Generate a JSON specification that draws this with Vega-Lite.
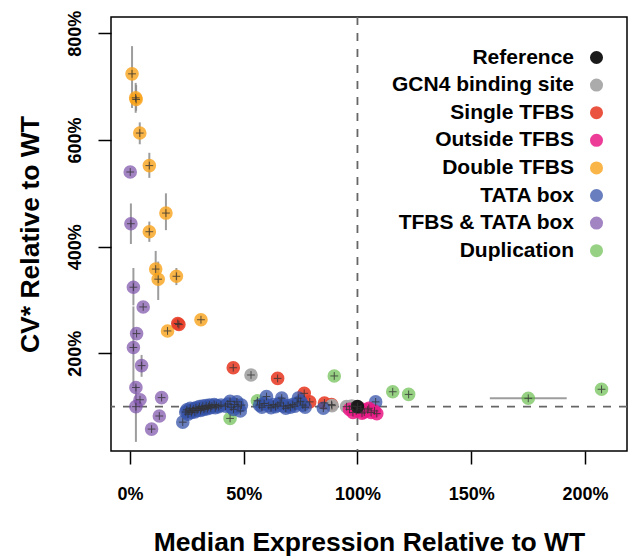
{
  "$schema": "https://vega.github.io/schema/vega-lite/v6.json",
  "width": 516,
  "height": 434,
  "autosize": {"type": "none"},
  "padding": {"left": 111, "top": 17, "right": 9, "bottom": 106},
  "background": "white",
  "config": {
    "view": {"stroke": "black", "strokeWidth": 1.5},
    "font": "Liberation Sans",
    "axis": {
      "grid": false, "domain": false, "ticks": true, "tickColor": "black", "tickWidth": 1.5, "tickSize": 13,
      "labelFont": "Liberation Sans", "labelFontWeight": "bold", "labelFontSize": 18, "labelColor": "black",
      "titleFont": "Liberation Sans", "titleFontWeight": "bold", "titleFontSize": 26.5, "titleColor": "black"
    }
  },
  "datasets": {
    "pts": [
      {"g": "TFBS & TATA box", "x": 0.1, "y": 540},
      {"g": "TFBS & TATA box", "x": 0.4, "y": 443, "ylo": 405, "yhi": 481},
      {"g": "TFBS & TATA box", "x": 1.5, "y": 324, "ylo": 290, "yhi": 360},
      {"g": "TFBS & TATA box", "x": 5.8, "y": 287},
      {"g": "TFBS & TATA box", "x": 2.9, "y": 237},
      {"g": "TFBS & TATA box", "x": 1.5, "y": 211, "ylo": 138, "yhi": 288},
      {"g": "TFBS & TATA box", "x": 5.1, "y": 177, "ylo": 156, "yhi": 197},
      {"g": "TFBS & TATA box", "x": 2.6, "y": 136},
      {"g": "TFBS & TATA box", "x": 4.4, "y": 113},
      {"g": "TFBS & TATA box", "x": 2.6, "y": 100, "ylo": 34, "yhi": 140},
      {"g": "TFBS & TATA box", "x": 13.9, "y": 117},
      {"g": "TFBS & TATA box", "x": 12.9, "y": 82.5},
      {"g": "TFBS & TATA box", "x": 9.5, "y": 58},
      {"g": "Double TFBS", "x": 0.9, "y": 724, "ylo": 660, "yhi": 776},
      {"g": "Double TFBS", "x": 2.5, "y": 679, "ylo": 651, "yhi": 707},
      {"g": "Double TFBS", "x": 2.7, "y": 676, "ylo": 655, "yhi": 703},
      {"g": "Double TFBS", "x": 4.3, "y": 613, "ylo": 592, "yhi": 633},
      {"g": "Double TFBS", "x": 8.5, "y": 552, "ylo": 529, "yhi": 576},
      {"g": "Double TFBS", "x": 15.8, "y": 463, "ylo": 431, "yhi": 500},
      {"g": "Double TFBS", "x": 8.5, "y": 428, "ylo": 409, "yhi": 447},
      {"g": "Double TFBS", "x": 11.3, "y": 358, "ylo": 340, "yhi": 392},
      {"g": "Double TFBS", "x": 12.4, "y": 339, "ylo": 300, "yhi": 372},
      {"g": "Double TFBS", "x": 20.4, "y": 344.5, "ylo": 328, "yhi": 360},
      {"g": "Double TFBS", "x": 31.2, "y": 263},
      {"g": "Double TFBS", "x": 16.5, "y": 242},
      {"g": "Single TFBS", "x": 21, "y": 256},
      {"g": "Single TFBS", "x": 21.5, "y": 254},
      {"g": "Single TFBS", "x": 45.4, "y": 173},
      {"g": "Single TFBS", "x": 64.9, "y": 153},
      {"g": "Single TFBS", "x": 76.6, "y": 125},
      {"g": "Single TFBS", "x": 79, "y": 109},
      {"g": "Single TFBS", "x": 85.5, "y": 107},
      {"g": "Single TFBS", "x": 88.6, "y": 104},
      {"g": "GCN4 binding site", "x": 53.2, "y": 159.4},
      {"g": "GCN4 binding site", "x": 88.8, "y": 102},
      {"g": "GCN4 binding site", "x": 95.2, "y": 100},
      {"g": "GCN4 binding site", "x": 97.5, "y": 101},
      {"g": "Duplication", "x": 44, "y": 78},
      {"g": "Duplication", "x": 56, "y": 111},
      {"g": "Duplication", "x": 89.8, "y": 157.6},
      {"g": "Duplication", "x": 115.5, "y": 128},
      {"g": "Duplication", "x": 122.5, "y": 123},
      {"g": "Duplication", "x": 175.1, "y": 115.7, "xlo": 158.2, "xhi": 192},
      {"g": "Duplication", "x": 207.3, "y": 132.6},
      {"g": "TATA box", "x": 23.2, "y": 71},
      {"g": "TATA box", "x": 24.5, "y": 90},
      {"g": "TATA box", "x": 25, "y": 94},
      {"g": "TATA box", "x": 25.5, "y": 86},
      {"g": "TATA box", "x": 26, "y": 92},
      {"g": "TATA box", "x": 26.5, "y": 97},
      {"g": "TATA box", "x": 27, "y": 89},
      {"g": "TATA box", "x": 27.5, "y": 93},
      {"g": "TATA box", "x": 28, "y": 96},
      {"g": "TATA box", "x": 28.5, "y": 90},
      {"g": "TATA box", "x": 29, "y": 98},
      {"g": "TATA box", "x": 29.5, "y": 93},
      {"g": "TATA box", "x": 30, "y": 96},
      {"g": "TATA box", "x": 30.5, "y": 100},
      {"g": "TATA box", "x": 31, "y": 93},
      {"g": "TATA box", "x": 31.5, "y": 97},
      {"g": "TATA box", "x": 32, "y": 101},
      {"g": "TATA box", "x": 32.5, "y": 95},
      {"g": "TATA box", "x": 33, "y": 98},
      {"g": "TATA box", "x": 33.5, "y": 102},
      {"g": "TATA box", "x": 34, "y": 96},
      {"g": "TATA box", "x": 34.5, "y": 100},
      {"g": "TATA box", "x": 35, "y": 103},
      {"g": "TATA box", "x": 35.5, "y": 98},
      {"g": "TATA box", "x": 36, "y": 101},
      {"g": "TATA box", "x": 37, "y": 104},
      {"g": "TATA box", "x": 37.5, "y": 98},
      {"g": "TATA box", "x": 38, "y": 102},
      {"g": "TATA box", "x": 39, "y": 100},
      {"g": "TATA box", "x": 40, "y": 103},
      {"g": "TATA box", "x": 42, "y": 101},
      {"g": "TATA box", "x": 43, "y": 105},
      {"g": "TATA box", "x": 44, "y": 110},
      {"g": "TATA box", "x": 44.5, "y": 99},
      {"g": "TATA box", "x": 45.5, "y": 95},
      {"g": "TATA box", "x": 46, "y": 104},
      {"g": "TATA box", "x": 47, "y": 109},
      {"g": "TATA box", "x": 47.5, "y": 100},
      {"g": "TATA box", "x": 48.5, "y": 92},
      {"g": "TATA box", "x": 49, "y": 103},
      {"g": "TATA box", "x": 57, "y": 103},
      {"g": "TATA box", "x": 58, "y": 99},
      {"g": "TATA box", "x": 59, "y": 106},
      {"g": "TATA box", "x": 60, "y": 119},
      {"g": "TATA box", "x": 61, "y": 102},
      {"g": "TATA box", "x": 62, "y": 98},
      {"g": "TATA box", "x": 63, "y": 104},
      {"g": "TATA box", "x": 64, "y": 100},
      {"g": "TATA box", "x": 65, "y": 103},
      {"g": "TATA box", "x": 66, "y": 107},
      {"g": "TATA box", "x": 66.7, "y": 116},
      {"g": "TATA box", "x": 67.5, "y": 101},
      {"g": "TATA box", "x": 68.5, "y": 97},
      {"g": "TATA box", "x": 69.5, "y": 102},
      {"g": "TATA box", "x": 70.5, "y": 99},
      {"g": "TATA box", "x": 71.5, "y": 104},
      {"g": "TATA box", "x": 72.5, "y": 101},
      {"g": "TATA box", "x": 73.5, "y": 107},
      {"g": "TATA box", "x": 74, "y": 116},
      {"g": "TATA box", "x": 75, "y": 110},
      {"g": "TATA box", "x": 76, "y": 103},
      {"g": "TATA box", "x": 77, "y": 99},
      {"g": "TATA box", "x": 85, "y": 97},
      {"g": "TATA box", "x": 108, "y": 109},
      {"g": "Outside TFBS", "x": 96.5, "y": 95},
      {"g": "Outside TFBS", "x": 99.5, "y": 92},
      {"g": "Outside TFBS", "x": 101.5, "y": 96},
      {"g": "Outside TFBS", "x": 102, "y": 88},
      {"g": "Outside TFBS", "x": 103, "y": 90},
      {"g": "Outside TFBS", "x": 104.5, "y": 94},
      {"g": "Outside TFBS", "x": 105, "y": 97},
      {"g": "Outside TFBS", "x": 106, "y": 89},
      {"g": "Outside TFBS", "x": 107.5, "y": 92},
      {"g": "Outside TFBS", "x": 108.5, "y": 87},
      {"g": "Outside TFBS", "x": 98, "y": 89},
      {"g": "Reference", "x": 100, "y": 100}
    ]
  },
  "layer": [
    {
      "data": {"name": "pts"},
      "transform": [{"filter": {"field": "ylo", "valid": true}}],
      "mark": {"type": "rule", "color": "#8c8c8c", "strokeWidth": 2, "opacity": 0.85},
      "encoding": {
        "x": {"field": "x", "type": "quantitative", "scale": {"domain": [-8.35, 218.5], "nice": false, "zero": false}},
        "y": {"field": "ylo", "type": "quantitative", "scale": {"domain": [16.9, 830.6], "nice": false, "zero": false}},
        "y2": {"field": "yhi"}
      }
    },
    {
      "data": {"name": "pts"},
      "transform": [{"filter": {"field": "xlo", "valid": true}}],
      "mark": {"type": "rule", "color": "#8c8c8c", "strokeWidth": 2, "opacity": 0.85},
      "encoding": {
        "x": {"field": "xlo", "type": "quantitative"},
        "x2": {"field": "xhi"},
        "y": {"field": "y", "type": "quantitative"}
      }
    },
    {
      "data": {"values": [{}]},
      "mark": {"type": "rule", "color": "#666666", "strokeWidth": 1.8, "strokeDash": [8, 8]},
      "encoding": {"y": {"datum": 100, "type": "quantitative"}}
    },
    {
      "data": {"values": [{}]},
      "mark": {"type": "rule", "color": "#666666", "strokeWidth": 1.8, "strokeDash": [8, 8]},
      "encoding": {"x": {"datum": 100, "type": "quantitative"}}
    },
    {
      "data": {"name": "pts"},
      "mark": {"type": "point", "filled": true, "size": 185, "strokeWidth": 0},
      "encoding": {
        "x": {"field": "x", "type": "quantitative",
              "axis": {"values": [0, 50, 100, 150, 200], "labelExpr": "datum.value + '%'", "title": "Median Expression Relative to WT", "labelPadding": 21, "titlePadding": 26}},
        "y": {"field": "y", "type": "quantitative",
              "axis": {"values": [200, 400, 600, 800], "labelExpr": "datum.value + '%'", "labelAngle": -90, "title": "CV* Relative to WT", "labelPadding": 14, "titlePadding": 22}},
        "color": {"field": "g", "type": "nominal",
          "scale": {"domain": ["Reference", "GCN4 binding site", "Single TFBS", "Outside TFBS", "Double TFBS", "TATA box", "TFBS & TATA box", "Duplication"],
                    "range": ["#1a1a1a", "#a6a6a6", "#e8402a", "#ea1a86", "#f9a21a", "#3553a8", "#7c50aa", "#5fb840"]},
          "legend": {"orient": "none", "legendX": 475, "legendY": 30, "title": null, "labelAlign": "right", "labelOffset": -33,
                     "labelFontSize": 21, "labelFont": "Liberation Sans", "labelFontWeight": "bold", "labelColor": "black", "labelLimit": 400,
                     "symbolSize": 170, "symbolType": "circle", "symbolStrokeWidth": 0, "rowPadding": 5.6, "padding": 0}},
        "opacity": {"field": "g", "type": "nominal",
          "scale": {"domain": ["Reference", "GCN4 binding site", "Single TFBS", "Outside TFBS", "Double TFBS", "TATA box", "TFBS & TATA box", "Duplication"],
                    "range": [1, 0.65, 0.65, 0.65, 0.65, 0.65, 0.65, 0.65]},
          "legend": {"orient": "none", "legendX": 475, "legendY": 30, "title": null, "labelAlign": "right", "labelOffset": -33,
                     "labelFontSize": 21, "labelFont": "Liberation Sans", "labelFontWeight": "bold", "labelColor": "black", "labelLimit": 400,
                     "symbolSize": 170, "symbolType": "circle", "symbolStrokeWidth": 0, "rowPadding": 5.6, "padding": 0}}
      }
    },
    {
      "data": {"name": "pts"},
      "mark": {"type": "point", "shape": "M-1,0H1M0,-1V1", "filled": false, "size": 60, "stroke": "#333333", "strokeWidth": 1, "opacity": 0.8},
      "encoding": {
        "x": {"field": "x", "type": "quantitative"},
        "y": {"field": "y", "type": "quantitative"}
      }
    }
  ]
}
